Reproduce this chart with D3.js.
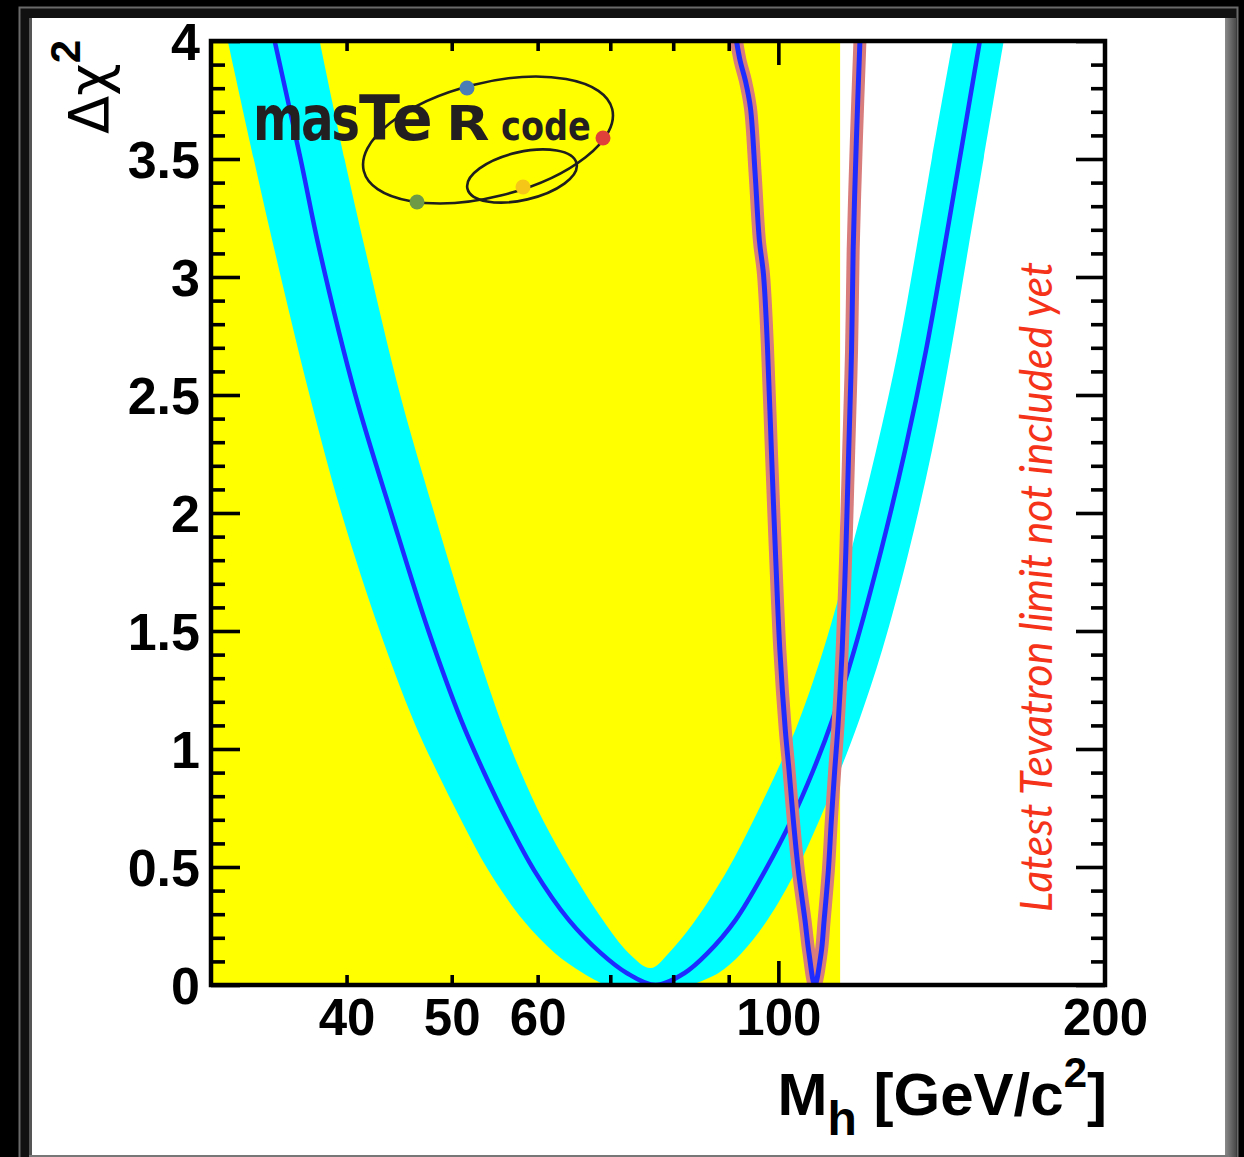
<!DOCTYPE html>
<html><head><meta charset="utf-8">
<script src="https://cdn.jsdelivr.net/npm/d3@7"></script>
<style>html,body{margin:0;padding:0;background:#000;overflow:hidden}</style>
</head><body>
<svg id="chart" width="1244" height="1157"></svg>
<script>
// ---------------- data ----------------
const massDomain = [30, 200];
const chi2Domain = [0, 4];
const xLabelTicks = [40, 50, 60, 100, 200];
const xMinorTicks = [40, 50, 60, 70, 80, 90];
const xMajorTicks = [100];
const yMajorTicks = [0, 0.5, 1, 1.5, 2, 2.5, 3, 3.5, 4];
const lepExcludedUpTo = 114.0;

// blue fit curve (central)
const fitMh   = [34.34, 36.28, 37.78, 40.77, 43.98, 47.57, 51.01, 53.43, 56.23, 59.54, 64.12, 68.62, 72.48, 77.07, 81.96, 86.05, 91.30, 97.29, 102.79, 107.69, 112.11, 117.45, 124.36, 130.84, 136.78, 142.09, 146.99, 153.34];
const fitChi2 = [4.0, 3.5, 3.111, 2.497, 1.998, 1.503, 1.122, 0.910, 0.698, 0.487, 0.275, 0.135, 0.051, 0.0, 0.051, 0.135, 0.275, 0.487, 0.698, 0.910, 1.122, 1.418, 1.841, 2.265, 2.688, 3.111, 3.505, 4.0];

// cyan theory band: outer boundary, left branch (top -> bottom)
const bandOuterLMh   = [31.09, 32.85, 34.34, 36.99, 39.58, 42.89, 46.09, 48.39, 51.02, 54.02, 58.17, 62.25, 66.05, 69.19];
const bandOuterLChi2 = [4.0, 3.5, 3.111, 2.497, 1.998, 1.503, 1.122, 0.910, 0.698, 0.487, 0.275, 0.135, 0.051, 0.0];
// outer boundary, right branch (bottom -> top)
const bandOuterRMh   = [83.18, 88.08, 92.47, 97.70, 103.88, 109.07, 114.02, 118.70, 124.62, 131.95, 138.53, 144.22, 149.50, 154.65, 161.33];
const bandOuterRChi2 = [0.0, 0.051, 0.135, 0.275, 0.487, 0.698, 0.910, 1.122, 1.418, 1.841, 2.265, 2.688, 3.111, 3.505, 4.0];
// inner boundary (left top -> cusp -> right top)
const bandInnerMh   = [37.78, 39.83, 41.64, 44.84, 48.19, 52.00, 55.88, 57.80, 60.69, 64.39, 68.90, 72.80, 76.27, 79.23, 83.89, 89.77, 94.85, 99.79, 103.66, 109.99, 116.71, 123.05, 128.91, 133.92, 138.53, 144.82];
const bandInnerChi2 = [4.0, 3.5, 3.111, 2.497, 1.998, 1.503, 1.079, 0.910, 0.698, 0.487, 0.275, 0.135, 0.072, 0.135, 0.275, 0.487, 0.698, 0.910, 1.079, 1.418, 1.841, 2.265, 2.688, 3.111, 3.505, 4.0];

// narrow curve (pink with blue core)
const narrowMh   = [91.5, 92.22, 93.25, 94.25, 95.19, 96.06, 96.88, 97.70, 98.53, 99.37, 100.32, 101.49, 102.29, 103.23, 104.32, 105.81, 106.71, 108.03, 109.5, 110.2, 111.2, 111.9, 112.7, 113.5, 114.5, 115.4, 116.1, 116.8, 117.2, 118.0, 118.9];
const narrowChi2 = [4.0, 3.915, 3.831, 3.716, 3.437, 3.153, 3.014, 2.709, 2.265, 1.841, 1.418, 1.079, 0.910, 0.698, 0.487, 0.275, 0.135, 0.0, 0.135, 0.275, 0.487, 0.698, 0.910, 1.10, 1.418, 1.841, 2.265, 2.688, 3.111, 3.577, 4.0];

const noteText = "Latest Tevatron limit not included yet";

// ---------------- drawing ----------------
const W = 1244, H = 1157;
const L = 211, R = 1105, T = 41, B = 985;
const svg = d3.select("#chart");

const x = d3.scaleLog().domain(massDomain).range([L, R]);
const y = d3.scaleLinear().domain(chi2Domain).range([B, T]);

// window frame
svg.append("rect").attr("x",0).attr("y",0).attr("width",W).attr("height",H).attr("fill","#000");
svg.append("rect").attr("x",19.5).attr("y",7.5).attr("width",1218).attr("height",1160)
  .attr("fill","#111").attr("stroke","#6a6a6a").attr("stroke-width",2);
const defs = svg.append("defs");
const grad = defs.append("linearGradient").attr("id","rg").attr("x1","0").attr("x2","1");
grad.append("stop").attr("offset","0").attr("stop-color","#8a8a8a");
grad.append("stop").attr("offset","1").attr("stop-color","#4a4a4a");
svg.append("rect").attr("x",1225).attr("y",18).attr("width",11).attr("height",1140).attr("fill","url(#rg)");
svg.append("rect").attr("x",29).attr("y",18).attr("width",3).attr("height",1140).attr("fill","#555");
svg.append("rect").attr("x",32).attr("y",18).attr("width",1193).attr("height",1137).attr("fill","#fff");
svg.append("rect").attr("x",29).attr("y",1155).attr("width",1200).attr("height",3).attr("fill","#777");

defs.append("clipPath").attr("id","plotclip")
  .append("rect").attr("x",L).attr("y",T).attr("width",R-L).attr("height",B-T);
const plot = svg.append("g").attr("clip-path","url(#plotclip)");

// yellow excluded region
plot.append("rect")
  .attr("x", x(massDomain[0])).attr("y", T)
  .attr("width", x(lepExcludedUpTo) - x(massDomain[0])).attr("height", B - T)
  .attr("fill", "#ffff00");

const line = d3.line().x(d => x(d[0])).y(d => y(d[1])).curve(d3.curveCatmullRom.alpha(0.5));
const zip = (a, b) => a.map((v, i) => [v, b[i]]);

// cyan band polygon
const segA = line(zip(bandOuterLMh, bandOuterLChi2));
const segB = line(zip(bandOuterRMh, bandOuterRChi2)).replace(/^M/, "L");
const segC = line(zip(bandInnerMh, bandInnerChi2).reverse()).replace(/^M/, "L");
plot.append("path").attr("d", segA + segB + segC + "Z").attr("fill", "#00ffff").attr("stroke","none");

// central blue fit line
plot.append("path").attr("d", line(zip(fitMh, fitChi2)))
  .attr("fill","none").attr("stroke","#1f2cff").attr("stroke-width",4.5).attr("stroke-linejoin","round");

// narrow curve
const nd = line(zip(narrowMh, narrowChi2));
plot.append("path").attr("d", nd).attr("fill","none").attr("stroke","#d97c7c").attr("stroke-width",13).attr("stroke-linejoin","round");
plot.append("path").attr("d", nd).attr("fill","none").attr("stroke","#1f2cff").attr("stroke-width",5).attr("stroke-linejoin","round");

// logo
const logo = svg.append("g");
logo.append("ellipse").attr("cx",0).attr("cy",0).attr("rx",128).attr("ry",57)
  .attr("transform","translate(488,140) rotate(-14)")
  .attr("fill","none").attr("stroke","#1e1e1e").attr("stroke-width",2.6);
logo.append("ellipse").attr("cx",0).attr("cy",0).attr("rx",56).attr("ry",24)
  .attr("transform","translate(522,176) rotate(-13)")
  .attr("fill","none").attr("stroke","#1e1e1e").attr("stroke-width",2.6);
const lf = "'DejaVu Sans', sans-serif";
function logoPart(txt, tx, sx, size, ls) {
  logo.append("text").attr("transform", `translate(${tx},140) scale(${sx},1)`)
    .attr("font-family", lf).attr("font-weight", "bold").attr("font-size", size)
    .attr("letter-spacing", ls).attr("fill", "#231f20").text(txt);
}
logoPart("mas", 253, 0.78, 62, -3);
logoPart("Te", 359, 0.97, 62, 0);
logoPart("R", 446, 1.18, 48, 0);
logoPart("code", 501, 0.84, 40, 0);
[[467,88,"#4a7db5"],[603,138,"#e0403a"],[417,202,"#6e9a46"],[523,187,"#f5c518"]].forEach(d => {
  logo.append("circle").attr("cx",d[0]).attr("cy",d[1]).attr("r",7.5).attr("fill",d[2]);
});

// rotated red note
svg.append("text")
  .attr("transform", "translate(1052,912) rotate(-90)")
  .attr("font-family","Lato, 'Open Sans', sans-serif").attr("font-style","italic")
  .attr("font-size",44).attr("fill","#f5331a")
  .attr("textLength",650).attr("lengthAdjust","spacingAndGlyphs")
  .text(noteText);

// ---------------- axes ----------------
const yMinorTicks = d3.range(1, 40).map(i => i / 10).filter(v => Math.abs(v * 2 - Math.round(v * 2)) > 1e-6);
function tickAxis(gen, tr) {
  const g = svg.append("g").attr("transform", tr).call(gen);
  g.select(".domain").remove();
  g.selectAll(".tick line").attr("stroke","#000").attr("stroke-width",3.6);
  g.selectAll("text").remove();
  return g;
}
tickAxis(d3.axisBottom(x).tickValues(xMinorTicks).tickSize(-10).tickSizeOuter(0).tickFormat(""), `translate(0,${B})`);
tickAxis(d3.axisBottom(x).tickValues(xMajorTicks).tickSize(-24).tickSizeOuter(0).tickFormat(""), `translate(0,${B})`);
tickAxis(d3.axisTop(x).tickValues(xMinorTicks).tickSize(-10).tickSizeOuter(0).tickFormat(""), `translate(0,${T})`);
tickAxis(d3.axisTop(x).tickValues(xMajorTicks).tickSize(-24).tickSizeOuter(0).tickFormat(""), `translate(0,${T})`);
tickAxis(d3.axisLeft(y).tickValues(yMajorTicks).tickSize(-29).tickSizeOuter(0).tickFormat(""), `translate(${L},0)`);
tickAxis(d3.axisLeft(y).tickValues(yMinorTicks).tickSize(-14).tickSizeOuter(0).tickFormat(""), `translate(${L},0)`);
tickAxis(d3.axisRight(y).tickValues(yMajorTicks).tickSize(-29).tickSizeOuter(0).tickFormat(""), `translate(${R},0)`);
tickAxis(d3.axisRight(y).tickValues(yMinorTicks).tickSize(-14).tickSizeOuter(0).tickFormat(""), `translate(${R},0)`);

// frame
svg.append("rect").attr("x",L).attr("y",T).attr("width",R-L).attr("height",B-T)
  .attr("fill","none").attr("stroke","#000").attr("stroke-width",4.5);

const labelFont = "'Liberation Sans', Arial, Helvetica, sans-serif";
const gxl = svg.append("g").attr("transform",`translate(0,${B})`)
  .call(d3.axisBottom(x).tickValues(xLabelTicks).tickSize(0).tickPadding(14).tickFormat(d => String(d)));
gxl.select(".domain").remove();
gxl.selectAll("text").attr("font-family",labelFont).attr("font-weight","bold").attr("font-size",51).attr("fill","#000");

const gyl = svg.append("g").attr("transform",`translate(${L},0)`)
  .call(d3.axisLeft(y).tickValues(yMajorTicks).tickSize(0).tickPadding(11).tickFormat(d => String(d)));
gyl.select(".domain").remove();
gyl.selectAll("text").attr("font-family",labelFont).attr("font-weight","bold").attr("font-size",52).attr("fill","#000").attr("dy","0.36em");

// x title
const xt = svg.append("text").attr("x",1107).attr("y",1115).attr("text-anchor","end")
  .attr("font-family",labelFont).attr("font-weight","bold").attr("font-size",60).attr("fill","#000");
xt.append("tspan").text("M");
xt.append("tspan").attr("font-size",48).attr("dy",20).text("h");
xt.append("tspan").attr("dy",-20).text(" [GeV/c");
xt.append("tspan").attr("font-size",42).attr("dy",-28).text("2");
xt.append("tspan").attr("dy",28).text("]");

// y title
const yt = svg.append("text").attr("transform","translate(108,134) rotate(-90)")
  .attr("font-family","'DejaVu Sans', sans-serif").attr("font-size",56).attr("fill","#000");
yt.append("tspan").text("Δχ");
yt.append("tspan").attr("font-family",labelFont).attr("font-weight","bold").attr("font-size",42).attr("dy",-28).text("2");
</script>
</body></html>
